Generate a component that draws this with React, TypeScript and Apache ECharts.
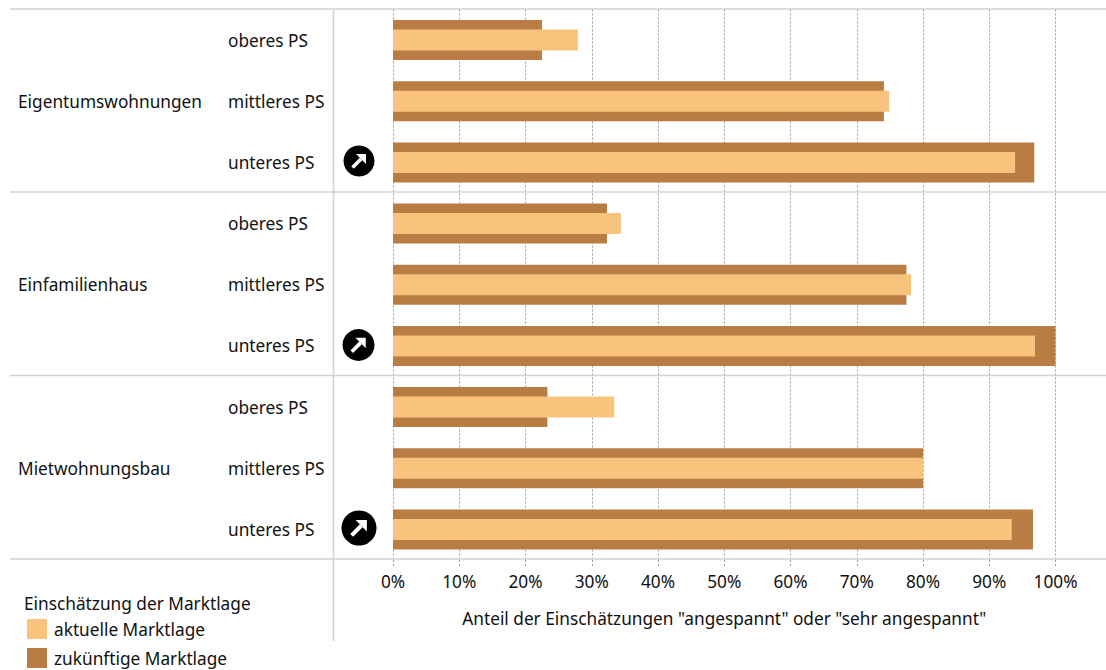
import React, { useEffect, useRef } from "react";
import * as echarts from "echarts";

const FONT = "Noto Sans";
const FONT_SIZE = 17.25;
const TEXT = "#111111";
const RULE = "#d2d2d2";
const GRID = "#a0a0a0";
const GRID_DASH = [2, 2];

const groups = ["Eigentumswohnungen", "Einfamilienhaus", "Mietwohnungsbau"];
const segments = [
  "oberes PS", "mittleres PS", "unteres PS",
  "oberes PS", "mittleres PS", "unteres PS",
  "oberes PS", "mittleres PS", "unteres PS",
];
const aktuelleMarktlage = [27.9, 74.9, 93.9, 34.4, 78.2, 96.9, 33.4, 80, 93.4];
const zukuenftigeMarktlage = [22.5, 74.1, 96.8, 32.3, 77.5, 100, 23.3, 80, 96.6];

// Rising-trend badges shown next to the lower price segment of each group
const badges = [
  { x: 359, y: 161, r: 15.5 },
  { x: 358.5, y: 345, r: 16 },
  { x: 359, y: 528, r: 17.5 },
];

const trendBadge = (b: { x: number; y: number; r: number }) => {
  const k = b.r / 15.5;
  return {
    type: "group",
    x: b.x,
    y: b.y,
    children: [
      { type: "circle", shape: { cx: 0, cy: 0, r: b.r }, style: { fill: "#000" } },
      {
        type: "line",
        shape: { x1: -6.5 * k, y1: 6.5 * k, x2: 2 * k, y2: -2 * k },
        style: { stroke: "#fff", lineWidth: 3.6 * k },
      },
      {
        type: "polygon",
        shape: { points: [[-3 * k, -7 * k], [7 * k, -7 * k], [7 * k, 3 * k]] },
        style: { fill: "#fff" },
      },
    ],
  };
};

const rule = (x1: number, y1: number, x2: number, y2: number) => ({
  type: "line",
  shape: { x1, y1, x2, y2 },
  style: { stroke: RULE, lineWidth: 1.6 },
  z: 1,
});

export default function App() {
  const ref = useRef<HTMLDivElement>(null);

  useEffect(() => {
    const chart = echarts.init(ref.current!, null, { renderer: "svg" });
    chart.setOption({
      animation: false,
      textStyle: { fontFamily: FONT, color: TEXT },
      grid: { left: 393, top: 9.5, width: 662.5, height: 550.5, containLabel: false },
      xAxis: {
        type: "value",
        min: 0,
        max: 100,
        interval: 10,
        name: 'Anteil der Einschätzungen "angespannt" oder "sehr angespannt"',
        nameLocation: "middle",
        nameGap: 50,
        nameTextStyle: { fontSize: FONT_SIZE, color: TEXT, fontFamily: FONT },
        axisLine: { show: false },
        axisTick: {
          show: true,
          inside: false,
          length: 8,
          lineStyle: { color: GRID, type: GRID_DASH, width: 1 },
        },
        axisLabel: {
          formatter: "{value}%",
          fontSize: FONT_SIZE,
          color: TEXT,
          fontFamily: FONT,
          margin: 13,
        },
        splitLine: { show: true, lineStyle: { color: GRID, type: GRID_DASH, width: 1 } },
      },
      yAxis: [
        {
          type: "category",
          inverse: true,
          data: segments,
          axisLine: { show: false },
          axisTick: { show: false },
          axisLabel: {
            align: "left",
            margin: 165,
            fontSize: FONT_SIZE,
            color: TEXT,
            fontFamily: FONT,
            interval: 0,
          },
        },
        {
          type: "category",
          inverse: true,
          data: segments,
          axisLine: { show: false },
          axisTick: { show: false },
          axisLabel: { show: false },
        },
        {
          type: "category",
          inverse: true,
          data: groups,
          axisLine: { show: false },
          axisTick: { show: false },
          position: "left",
          axisLabel: {
            align: "left",
            margin: 375,
            fontSize: FONT_SIZE,
            color: TEXT,
            fontFamily: FONT,
            interval: 0,
          },
        },
      ],
      legend: {
        orient: "vertical",
        left: 22,
        top: 614,
        height: 60,
        padding: 5,
        itemWidth: 20,
        itemHeight: 20,
        itemGap: 9,
        icon: "rect",
        data: ["aktuelle Marktlage", "zukünftige Marktlage"],
        textStyle: { fontSize: FONT_SIZE, color: TEXT, fontFamily: FONT, padding: [0, 0, 0, 2] },
      },
      series: [
        {
          name: "zukünftige Marktlage",
          type: "bar",
          yAxisIndex: 0,
          data: zukuenftigeMarktlage,
          barWidth: 40,
          itemStyle: { color: "#B97D43" },
          z: 2,
        },
        {
          name: "aktuelle Marktlage",
          type: "bar",
          yAxisIndex: 1,
          data: aktuelleMarktlage,
          barWidth: 21,
          itemStyle: { color: "#F7C37D" },
          z: 3,
        },
      ],
      graphic: [
        rule(10, 9, 1106, 9),
        rule(10, 192, 1106, 192),
        rule(10, 375.5, 1106, 375.5),
        rule(10, 559, 1106, 559),
        rule(333.5, 9, 333.5, 641),
        ...badges.map(trendBadge),
        {
          type: "text",
          x: 24,
          y: 595,
          style: {
            text: "Einschätzung der Marktlage",
            font: `${FONT_SIZE}px "${FONT}"`,
            fill: TEXT,
          },
        },
      ],
    });
    return () => chart.dispose();
  }, []);

  return (
    <div
      ref={ref}
      style={{ position: "fixed", left: 0, top: 0, width: 1106, height: 670, background: "#fff" }}
    />
  );
}
